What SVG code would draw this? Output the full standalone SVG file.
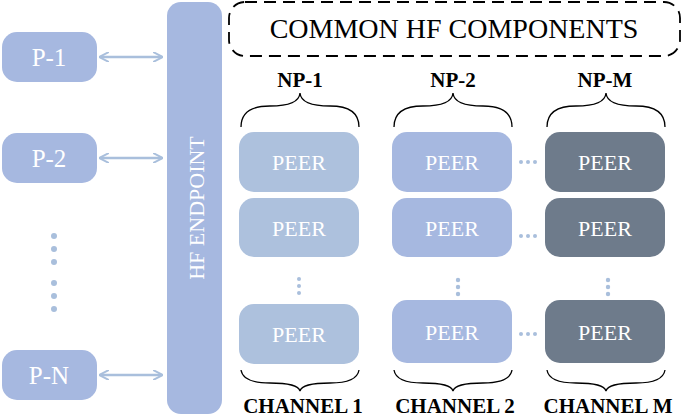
<svg xmlns="http://www.w3.org/2000/svg" width="685" height="418" viewBox="0 0 685 418">
<defs>
<style>
.p{fill:#a6b8e0}
.t{font-family:"Liberation Serif",serif;fill:#fff;font-size:22px;text-anchor:middle}
.pt{font-size:25px}
.b{font-family:"Liberation Serif",serif;fill:#000;font-weight:bold;font-size:21px;text-anchor:middle}
.c1{fill:#adc1dd}.c2{fill:#a6b8e0}.c3{fill:#6e7b8b}
.br{fill:none;stroke:#000;stroke-width:1.3}
.ar{stroke:#a9bfdc;stroke-width:2.5;fill:none}
.d{fill:#a9bfdc}
</style>
<marker id="ah" viewBox="0 0 10 10" refX="9" refY="5" markerWidth="4" markerHeight="4" orient="auto-start-reverse"><path d="M0,0L10,5L0,10" fill="none" stroke="#a9bfdc" stroke-width="2"/></marker>
</defs>
<g id="p1"><rect class="p" x="2" y="32" width="95" height="50" rx="15"/><text class="t pt" x="49" y="66">P-1</text></g>
<g id="p2"><rect class="p" x="2" y="133" width="95" height="50" rx="15"/><text class="t pt" x="49" y="167">P-2</text></g>
<g id="pn"><rect class="p" x="2" y="350" width="95" height="50" rx="15"/><text class="t pt" x="49" y="384">P-N</text></g>
<g id="pdots" class="d"><circle cx="54" cy="236" r="3"/><circle cx="54" cy="249" r="3"/><circle cx="54" cy="262" r="3"/><circle cx="54" cy="283" r="3"/><circle cx="54" cy="296" r="3"/><circle cx="54" cy="309" r="3"/></g>
<g id="hf"><rect class="p" x="167" y="2" width="55" height="412" rx="14"/><text class="t" transform="translate(204,208) rotate(-90)" font-size="26">HF ENDPOINT</text></g>
<g id="common"><rect x="229" y="2" width="451" height="54" rx="16" fill="none" stroke="#000" stroke-width="1.8" stroke-dasharray="12,7"/><text x="454" y="38" font-family="Liberation Serif,serif" font-size="28" text-anchor="middle">COMMON HF COMPONENTS</text></g>
<g id="connectors">
<line class="ar" x1="100" y1="57" x2="162" y2="57" marker-start="url(#ah)" marker-end="url(#ah)"/>
<line class="ar" x1="100" y1="158" x2="162" y2="158" marker-start="url(#ah)" marker-end="url(#ah)"/>
<line class="ar" x1="100" y1="375" x2="162" y2="375" marker-start="url(#ah)" marker-end="url(#ah)"/>
</g>
<g id="np-labels">
<text class="b" x="300" y="87">NP-1</text><text class="b" x="453" y="87">NP-2</text><text class="b" x="605" y="87">NP-M</text>
<path class="br" d="M241,127 Q241,106 270,106 Q299,106 300,93 Q301,106 330,106 Q359,106 359,127"/>
<path class="br" d="M394,127 Q394,106 423,106 Q452,106 453,93 Q454,106 483,106 Q512,106 512,127"/>
<path class="br" d="M547,127 Q547,106 576,106 Q605,106 606,93 Q607,106 636,106 Q665,106 665,127"/>
</g>
<g id="col1">
<rect class="c1" x="239" y="132" width="120" height="60" rx="15"/><text class="t" x="299" y="170">PEER</text>
<rect class="c1" x="239" y="198" width="120" height="59" rx="15"/><text class="t" x="299" y="236">PEER</text>
<rect class="c1" x="239" y="304" width="120" height="60" rx="15"/><text class="t" x="299" y="342">PEER</text>
<g class="d"><circle cx="299" cy="279" r="2"/><circle cx="299" cy="286" r="2"/><circle cx="299" cy="293" r="2"/></g>
</g>
<g id="col2">
<rect class="c2" x="392" y="132" width="120" height="60" rx="15"/><text class="t" x="452" y="170">PEER</text>
<rect class="c2" x="392" y="198" width="120" height="59" rx="15"/><text class="t" x="452" y="236">PEER</text>
<rect class="c2" x="392" y="300" width="120" height="63" rx="15"/><text class="t" x="452" y="340">PEER</text>
<g class="d"><circle cx="458" cy="280" r="2.2"/><circle cx="458" cy="287" r="2.2"/><circle cx="458" cy="294" r="2.2"/></g>
</g>
<g id="colM">
<rect class="c3" x="545" y="132" width="120" height="60" rx="15"/><text class="t" x="605" y="170">PEER</text>
<rect class="c3" x="545" y="198" width="120" height="59" rx="15"/><text class="t" x="605" y="236">PEER</text>
<rect class="c3" x="545" y="300" width="120" height="63" rx="15"/><text class="t" x="605" y="340">PEER</text>
<g class="d"><circle cx="608" cy="280" r="2.2"/><circle cx="608" cy="287" r="2.2"/><circle cx="608" cy="294" r="2.2"/></g>
</g>
<g id="hdots" class="d">
<circle cx="521" cy="162" r="2"/><circle cx="528" cy="162" r="2"/><circle cx="535" cy="162" r="2"/>
<circle cx="521" cy="236" r="2"/><circle cx="528" cy="236" r="2"/><circle cx="535" cy="236" r="2"/>
<circle cx="521" cy="334" r="2"/><circle cx="528" cy="334" r="2"/><circle cx="535" cy="334" r="2"/>
</g>
<g id="channels">
<path class="br" d="M241,370 Q243,383 270,383 Q298,383 300,391 Q302,383 330,383 Q357,383 359,370"/>
<path class="br" d="M394,370 Q396,383 423,383 Q451,383 453,391 Q455,383 483,383 Q510,383 512,370"/>
<path class="br" d="M547,370 Q549,383 576,383 Q604,383 606,391 Q608,383 636,383 Q663,383 665,370"/>
<text class="b" x="303" y="413">CHANNEL 1</text><text class="b" x="455" y="413">CHANNEL 2</text><text class="b" x="608" y="413">CHANNEL M</text>
</g>
</svg>
